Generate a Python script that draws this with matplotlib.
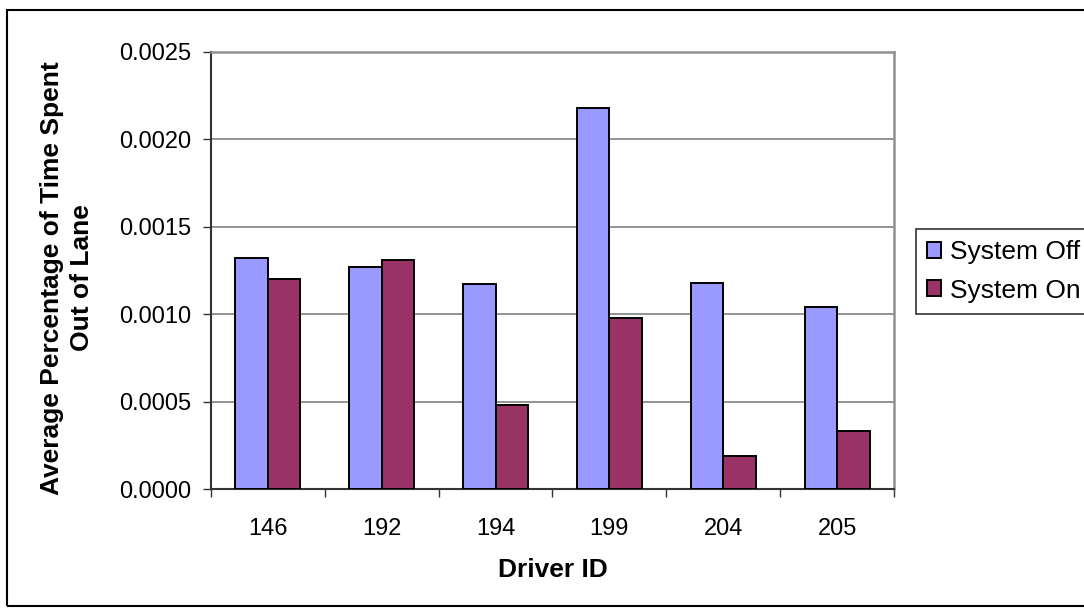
import matplotlib.pyplot as plt
import matplotlib.patches as patches
from matplotlib.ticker import FixedLocator, FormatStrFormatter
import numpy as np

# valores medios por motorista
motoristas = ['146', '192', '194', '199', '204', '205']
sistema_off = [0.00132, 0.00127, 0.00117, 0.00218, 0.00118, 0.00104]
sistema_on = [0.00120, 0.00131, 0.00048, 0.00098, 0.00019, 0.00033]
y_ticks = [0.0000, 0.0005, 0.0010, 0.0015, 0.0020, 0.0025]

plt.rcParams['font.family'] = ['Liberation Sans', 'DejaVu Sans']
fs = 17
fs_titulo = 19

fig = plt.figure(figsize=(10.84, 6.14), dpi=100)
ax = fig.add_axes([211 / 1084, 1 - 489 / 614, 683 / 1084, 437 / 614])

x = np.arange(len(motoristas))
w = 1 / 3.5
ax.bar(x - w / 2, sistema_off, w, color='#9999FF', edgecolor='black', linewidth=1.4,
       label='System Off', zorder=3)
ax.bar(x + w / 2, sistema_on, w, color='#993366', edgecolor='black', linewidth=1.4,
       label='System On', zorder=3)

ax.set_xlim(-0.5, len(motoristas) - 0.5)
ax.set_ylim(0, 0.0025)
ax.set_yticks(y_ticks)
ax.yaxis.set_major_formatter(FormatStrFormatter('%.4f'))
ax.grid(axis='y', color='#808080', linewidth=1.2, zorder=0)

ax.set_xticks(x)
ax.set_xticklabels(motoristas)
ax.xaxis.set_minor_locator(FixedLocator(np.arange(-0.5, len(motoristas), 1)))
ax.tick_params(axis='x', which='major', length=0, pad=21, labelsize=fs)
ax.tick_params(axis='x', which='minor', length=6, width=1, color='#333333', direction='out')
ax.tick_params(axis='y', length=6, width=1, color='#333333', pad=8.5, labelsize=fs)

for lado in ['left', 'bottom']:
    ax.spines[lado].set_color('#333333')
    ax.spines[lado].set_linewidth(1.5)
for lado in ['top', 'right']:
    ax.spines[lado].set_color('#909090')
    ax.spines[lado].set_linewidth(1.8)

ax.set_xlabel('Driver ID', fontsize=fs_titulo, fontweight='bold')
ax.xaxis.set_label_coords(0.5, -0.158)
fig.text(67 / 1084, 1 - 278 / 614, 'Average Percentage of Time Spent\nOut of Lane',
         rotation=90, ha='center', va='center', fontsize=fs_titulo, fontweight='bold',
         multialignment='center', linespacing=1.32)

leg = ax.legend(loc='upper left', bbox_to_anchor=(916 / 1084, 1 - 229 / 614),
                bbox_transform=fig.transFigure, fontsize=fs_titulo, frameon=True,
                fancybox=False, edgecolor='black', handlelength=0.53,
                handleheight=0.53, handletextpad=0.34, borderpad=0.42,
                labelspacing=0.55, borderaxespad=0)
leg.get_frame().set_linewidth(1.2)

# moldura externa do gráfico
fig.patches.append(patches.Rectangle((7 / 1084, 1 - 606 / 614), 1.1, 596 / 614,
                                     transform=fig.transFigure, fill=False,
                                     edgecolor='black', linewidth=1.5))

fig.savefig('out.png', dpi=100, facecolor='white')
